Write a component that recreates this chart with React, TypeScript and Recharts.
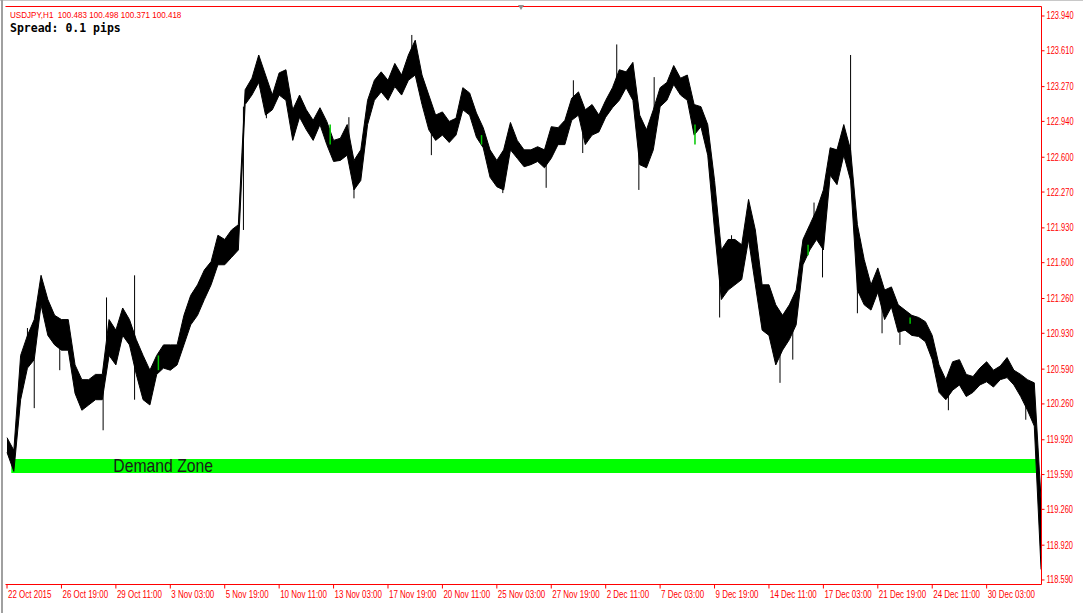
import React from 'react';
import { ComposedChart, Area, XAxis, YAxis, ReferenceArea, ReferenceLine } from 'recharts';

// USDJPY H1, one sample every 8 bars (high / low of the bars around it)
const HOURS_PER_POINT = 8;

const HIGH = [
  119.94, 119.82, 120.72, 120.91, 121.06, 121.48, 121.25, 121.10, 121.06, 121.06,
  120.63, 120.49, 120.49, 120.54, 120.54, 121.06, 120.96, 121.17, 121.06, 120.87,
  120.72, 120.58, 120.72, 120.82, 120.82, 120.82, 121.10, 121.29, 121.39, 121.53,
  121.61, 121.86, 121.82, 121.91, 121.96, 123.24, 123.35, 123.57, 123.38, 123.19,
  123.40, 123.43, 123.05, 123.19, 123.05, 122.95, 123.07, 122.94, 122.76, 122.78,
  122.91, 122.57, 122.67, 123.14, 123.33, 123.41, 123.33, 123.49, 123.38, 123.57,
  123.71, 123.38, 123.19, 123.00, 123.03, 122.94, 122.97, 123.26, 123.21, 123.02,
  122.88, 122.67, 122.57, 122.67, 122.93, 122.76, 122.67, 122.67, 122.70, 122.67,
  122.89, 122.88, 122.95, 123.16, 123.22, 123.05, 123.10, 123.00, 123.14, 123.26,
  123.43, 123.41, 123.50, 123.00, 122.86, 123.05, 123.26, 123.31, 123.47, 123.35,
  123.38, 123.10, 123.08, 122.91, 122.38, 121.72, 121.82, 121.82, 121.77, 122.20,
  121.91, 121.39, 121.39, 121.20, 121.10, 121.20, 121.34, 121.82, 121.96, 122.10,
  122.29, 122.69, 122.67, 122.91, 122.67, 121.96, 121.63, 121.39, 121.55, 121.34,
  121.37, 121.20, 121.15, 121.10, 121.08, 121.04, 120.91, 120.63, 120.49, 120.66,
  120.68, 120.54, 120.52, 120.60, 120.66, 120.58, 120.62, 120.70, 120.58, 120.54,
  120.49, 120.46, 119.35,
];

const LOW = [
  119.80, 119.62, 120.30, 120.60, 120.68, 121.20, 120.91, 120.82, 120.77, 120.77,
  120.36, 120.20, 120.25, 120.30, 120.30, 120.72, 120.63, 120.91, 120.82, 120.54,
  120.30, 120.25, 120.54, 120.60, 120.58, 120.63, 120.82, 121.01, 121.10, 121.25,
  121.39, 121.58, 121.58, 121.65, 121.72, 123.10, 123.19, 123.31, 123.00, 123.05,
  123.19, 123.14, 122.76, 122.98, 122.86, 122.76, 122.91, 122.72, 122.56, 122.57,
  122.62, 122.29, 122.38, 122.91, 123.14, 123.22, 123.14, 123.27, 123.19, 123.33,
  123.38, 123.10, 122.86, 122.76, 122.81, 122.74, 122.81, 123.05, 123.00, 122.79,
  122.69, 122.41, 122.32, 122.29, 122.67, 122.59, 122.51, 122.53, 122.56, 122.50,
  122.59, 122.72, 122.72, 122.95, 123.00, 122.72, 122.81, 122.84, 122.98, 123.07,
  123.14, 123.26, 123.14, 122.53, 122.50, 122.67, 123.08, 123.14, 123.29, 123.19,
  123.14, 122.81, 122.89, 122.62, 121.91, 121.25, 121.34, 121.39, 121.44, 121.82,
  121.39, 120.96, 120.91, 120.63, 120.77, 120.87, 121.01, 121.58, 121.72, 121.82,
  121.72, 122.43, 122.34, 122.62, 122.38, 121.34, 121.20, 121.15, 121.32, 121.06,
  121.18, 120.94, 120.96, 120.91, 120.90, 120.85, 120.68, 120.37, 120.30, 120.39,
  120.44, 120.33, 120.37, 120.44, 120.47, 120.42, 120.49, 120.51, 120.44, 120.33,
  120.20, 120.05, 118.69,
];

// single long bars: [hour, high, low]
const WICKS = [
  [24, 120.98, 120.77], [32, 120.68, 120.22], [62, 120.87, 120.58], [113, 120.49, 120.01],
  [117, 121.27, 120.87], [150, 121.48, 120.30], [278, 123.08, 121.91], [305, 123.24, 122.97],
  [402, 122.98, 122.67], [408, 122.53, 122.21], [476, 123.76, 123.43], [499, 122.91, 122.62],
  [583, 122.57, 122.26], [634, 122.67, 122.31], [666, 123.33, 123.05], [677, 123.00, 122.64],
  [717, 123.67, 123.29], [743, 122.86, 122.29], [761, 123.36, 123.05], [838, 121.63, 121.08],
  [852, 121.86, 121.53], [909, 120.96, 120.46], [924, 121.06, 120.68], [949, 122.17, 121.82],
  [959, 121.91, 121.46], [992, 123.57, 122.38], [1000, 121.72, 121.12], [1003, 121.82, 121.34],
  [1029, 121.29, 120.93], [1050, 121.15, 120.82], [1107, 120.49, 120.20], [1198, 120.44, 120.11],
];

const GREEN_BARS = [
  [178, 120.72, 120.58], [380, 122.91, 122.72], [558, 122.81, 122.72],
  [809, 122.91, 122.72], [942, 121.77, 121.67], [1062, 121.08, 121.02],
];

const TIME_TICKS = [0, 64, 128, 192, 256, 320, 384, 448, 512, 576, 640, 704, 768, 832, 896, 960, 1024, 1088, 1152];
const TIME_LABELS = [
  '22 Oct 2015', '26 Oct 19:00', '29 Oct 11:00', '3 Nov 03:00', '5 Nov 19:00', '10 Nov 11:00',
  '13 Nov 03:00', '17 Nov 19:00', '20 Nov 11:00', '25 Nov 03:00', '27 Nov 19:00', '2 Dec 11:00',
  '7 Dec 03:00', '9 Dec 19:00', '14 Dec 11:00', '17 Dec 03:00', '21 Dec 19:00', '24 Dec 11:00',
  '30 Dec 03:00',
];

const PRICE_TICKS = [
  123.94, 123.61, 123.27, 122.94, 122.6, 122.27, 121.93, 121.6, 121.26,
  120.93, 120.59, 120.26, 119.92, 119.59, 119.26, 118.92, 118.59,
];

const ZONE_HOURS = [5, 1210];
const ZONE_PRICES = [119.605, 119.738];

const SANS = "'Liberation Sans', Arial, sans-serif";
const RED = '#ff0000';

const data = HIGH.map((h, i) => ({ hour: i * HOURS_PER_POINT, range: [LOW[i], h] }));

// MT4 uses a narrow font; squeeze Liberation Sans horizontally
const XTick = (props: any) => {
  const { x, y, payload } = props;
  const label = TIME_LABELS[TIME_TICKS.indexOf(payload.value)];
  return (
    <text transform={`translate(${x + 1},${y + 8.5}) scale(0.76,1)`} fill={RED} fontSize={10.5} fontFamily={SANS} textAnchor="start">
      {label}
    </text>
  );
};

const YTick = (props: any) => {
  const { x, y, payload } = props;
  return (
    <text transform={`translate(${x},${y + 3.5}) scale(0.75,1)`} fill={RED} fontSize={10} fontFamily={SANS} textAnchor="start">
      {Number(payload.value).toFixed(3)}
    </text>
  );
};

const ZoneLabel = (props: any) => {
  const { viewBox } = props;
  if (!viewBox) return null;
  return (
    <text
      transform={`translate(${viewBox.x + 102},${viewBox.y + viewBox.height / 2 + 6.4}) scale(0.875,1)`}
      fill="#1a1a1a"
      fontSize={18}
      fontFamily={SANS}
    >
      Demand Zone
    </text>
  );
};

export default function App() {
  return (
    <div style={{ position: 'absolute', left: 0, top: 0, width: 1083, height: 613, background: '#fff' }}>
      <div style={{ position: 'absolute', left: 0, top: 0, width: 1083, height: 1, background: '#c8c8c8' }} />
      <div style={{ position: 'absolute', left: 1, top: 0, width: 2, height: 613, background: '#a0a0a0' }} />
      <div
        style={{
          position: 'absolute', left: 10, top: 9, color: RED, fontFamily: SANS, fontSize: 9.5,
          whiteSpace: 'pre', transform: 'scaleX(0.85)', transformOrigin: 'left top',
        }}
      >
        {'USDJPY,H1  100.483 100.498 100.371 100.418'}
      </div>
      <div
        style={{
          position: 'absolute', left: 10, top: 21, color: '#000', fontFamily: "'DejaVu Sans Mono', monospace",
          fontWeight: 'bold', fontSize: 11.5,
        }}
      >
        Spread: 0.1 pips
      </div>
      <ComposedChart width={1083} height={613} data={data} margin={{ top: 6.5, right: 0, bottom: 0, left: 5.5 }}>
        <ReferenceArea
          x1={ZONE_HOURS[0]}
          x2={ZONE_HOURS[1]}
          y1={ZONE_PRICES[0]}
          y2={ZONE_PRICES[1]}
          fill="#00ff00"
          fillOpacity={1}
          stroke="none"
          label={<ZoneLabel />}
        />
        <Area
          dataKey="range"
          type="linear"
          stroke="#000"
          strokeWidth={1}
          fill="#000"
          fillOpacity={1}
          dot={false}
          activeDot={false}
          isAnimationActive={false}
        />
        {WICKS.map(([h, hi, lo], i) => (
          <ReferenceLine key={`w${i}`} segment={[{ x: h, y: hi }, { x: h, y: lo }]} stroke="#000" strokeWidth={1} />
        ))}
        {GREEN_BARS.map(([h, hi, lo], i) => (
          <ReferenceLine key={`g${i}`} segment={[{ x: h, y: hi }, { x: h, y: lo }]} stroke="#00c800" strokeWidth={1.5} />
        ))}
        <ReferenceLine y={124.03} stroke={RED} strokeWidth={1} />
        <XAxis
          type="number"
          dataKey="hour"
          domain={[-1.8, 1216.5]}
          ticks={TIME_TICKS}
          interval={0}
          allowDataOverflow
          tick={<XTick />}
          tickSize={4}
          tickMargin={1}
          stroke={RED}
          height={28.5}
        />
        <YAxis
          orientation="right"
          type="number"
          domain={[118.547, 124.03]}
          ticks={PRICE_TICKS}
          interval={0}
          allowDataOverflow
          tick={<YTick />}
          tickSize={3}
          stroke={RED}
          width={41.5}
        />
        <YAxis yAxisId="left" orientation="left" type="number" domain={[0, 1]} tick={false} tickLine={false} stroke={RED} width={0} />
      </ComposedChart>
      <div
        style={{
          position: 'absolute', left: 518, top: 5, width: 0, height: 0,
          borderLeft: '3.5px solid transparent', borderRight: '3.5px solid transparent', borderTop: '5px solid #909090',
        }}
      />
    </div>
  );
}
